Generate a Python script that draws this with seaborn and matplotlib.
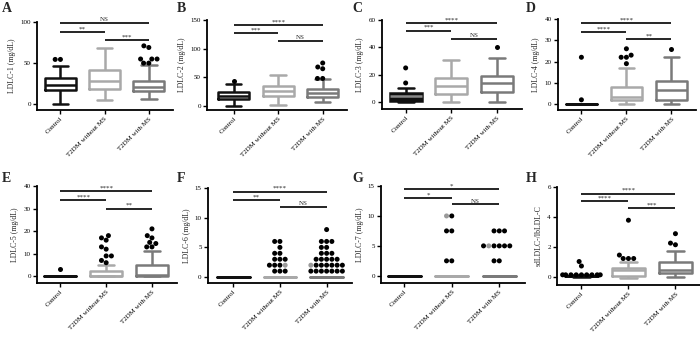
import numpy as np
import pandas as pd
import matplotlib
matplotlib.use("Agg")
import matplotlib.pyplot as plt
import seaborn as sns

# ---------------- data ----------------
groups = ["Control", "T2DM without MS", "T2DM with MS"]

# five-number summaries per group: [lower whisker, Q1, median, Q3, upper whisker]
ldlc1_box = [[0, 17, 23, 32, 47], [5, 19, 28.5, 42, 68], [6, 16, 21, 28.5, 48]]
ldlc1_out = [[54.5, 54.5], [], [71, 69, 55, 55, 55, 50, 50]]
ldlc2_box = [[0, 12, 17.5, 24.5, 37.5], [1, 17, 26, 34, 54], [7, 16, 22, 29, 47.5]]
ldlc2_out = [[43], [], [75, 68, 65, 48, 48]]
ldlc3_box = [[0, 1, 4.8, 6.6, 10.7], [0, 6, 12, 17.5, 31], [0, 7.7, 14.3, 19.2, 32.5]]
ldlc3_out = [[25, 14], [], [40]]
ldlc4_box = [[0, 0, 0, 0, 0], [0, 1.9, 3.5, 8, 17], [0, 2, 6.5, 11, 22]]
ldlc4_out = [[22, 2], [26, 23, 22, 22, 19], [26]]
ldlc5_box = [[0, 0, 0, 0, 0], [0, 0, 0, 2.5, 5], [0, 0, 0.7, 5.2, 11]]
ldlc5_out = [[3], [18, 17, 16, 13, 12, 9, 9, 7, 6], [21, 18, 17, 15, 14.5, 13, 13]]
ldlc6_box = [[0, 0, 0, 0, 0], [0, 0, 0, 0, 0], [0, 0, 0, 0, 0]]
ldlc6_out = [[], [6, 6, 5, 4, 4, 3, 3, 3, 2, 2, 2, 1, 1, 1],
             [8, 6, 6, 6, 5, 5, 4, 4, 4, 3, 3, 3, 3, 3, 2, 2, 2, 2, 2, 2,
              1, 1, 1, 1, 1, 1, 1]]
ldlc6_grey = [[], [2], [2]]
ldlc7_box = [[0, 0, 0, 0, 0], [0, 0, 0, 0, 0], [0, 0, 0, 0, 0]]
ldlc7_out = [[], [10, 7.5, 7.5, 2.5, 2.5], [7.5, 7.5, 7.5, 5, 5, 5, 5, 5, 2.5, 2.5]]
ldlc7_grey = [[], [10], [5]]
ratio_box = [[0, 0.03, 0.06, 0.08, 0.1], [-0.1, 0.05, 0.42, 0.6, 1.0], [0, 0.22, 0.48, 0.98, 1.74]]
ratio_out = [[1.02, 0.72, 0.13, 0.13, 0.13, 0.13, 0.13, 0.13, 0.13, 0.13, 0.13],
             [3.78, 1.45, 1.22, 1.22, 1.22], [2.88, 2.25, 2.14]]

# significance annotations: (group i, group j, bar level, label)
sig_a = [(0, 2, 99, "NS"), (0, 1, 88, "**"), (1, 2, 78, "***")]
sig_b = [(0, 2, 141, "****"), (0, 1, 127, "***"), (1, 2, 114, "NS")]
sig_c = [(0, 2, 57.6, "****"), (0, 1, 52.3, "***"), (1, 2, 46, "NS")]
sig_d = [(0, 2, 38, "****"), (0, 1, 33.8, "****"), (1, 2, 30.5, "**")]
sig_e = [(0, 2, 37.7, "****"), (0, 1, 33.6, "****"), (1, 2, 29.9, "**")]
sig_f = [(0, 2, 14.4, "****"), (0, 1, 12.9, "**"), (1, 2, 11.8, "NS")]
sig_g = [(0, 2, 14.5, "*"), (0, 1, 12.95, "*"), (1, 2, 11.95, "NS")]
sig_h = [(0, 2, 5.55, "****"), (0, 1, 5.06, "****"), (1, 2, 4.58, "***")]

panels = [
    ("A", "LDLC-1 (mg/dL)", ldlc1_box, ldlc1_out, None, [0, 50, 100], -7, sig_a),
    ("B", "LDLC-2 (mg/dL)", ldlc2_box, ldlc2_out, None, [0, 50, 100, 150], -7, sig_b),
    ("C", "LDLC-3 (mg/dL)", ldlc3_box, ldlc3_out, None, [0, 20, 40, 60], -5, sig_c),
    ("D", "LDLC-4 (mg/dL)", ldlc4_box, ldlc4_out, None, [0, 10, 20, 30, 40], -2.8, sig_d),
    ("E", "LDLC-5 (mg/dL)", ldlc5_box, ldlc5_out, None, [0, 10, 20, 30, 40], -3, sig_e),
    ("F", "LDLC-6 (mg/dL)", ldlc6_box, ldlc6_out, ldlc6_grey, [0, 5, 10, 15], -1, sig_f),
    ("G", "LDLC-7 (mg/dL)", ldlc7_box, ldlc7_out, ldlc7_grey, [0, 5, 10, 15], -1.2, sig_g),
    ("H", "sdLDLC-/lbLDL-C", ratio_box, ratio_out, None, [0, 2, 4, 6], -0.55, sig_h),
]

# ---------------- style / layout ----------------
sns.set_style("ticks")
plt.rcParams["font.family"] = ["Liberation Serif", "DejaVu Serif"]

W, H = 700, 337
fig = plt.figure(figsize=(W / 100, H / 100), dpi=100)

# pixel layout: (left spine x, top y, bottom y, category spacing, x-left-limit)
layout = [
    (37, 22, 110, 44.2, -0.53), (207, 20, 110, 44.5, -0.60),
    (382, 20, 109, 45.5, -0.52), (558, 19, 110, 45.0, -0.52),
    (37, 186, 283, 45.8, -0.51), (208, 188, 283, 46.7, -0.54),
    (381, 186, 283, 47.5, -0.49), (557, 187, 285, 47.0, -0.52),
]
letter_pos = [(2, 2), (177, 2), (352, 2), (526, 2), (2, 172), (177, 172), (352, 172), (526, 172)]

colors = ["#111111", "#a9a9a9", "#7a7a7a"]
XR = 2.55

for (letter, ylabel, box, out, grey, yticks, ybot, sigs), (lx, ty, by, sp, xl), lp in zip(panels, layout, letter_pos):
    wpx = (XR - xl) * sp
    ax = fig.add_axes([lx / W, 1 - by / H, wpx / W, (by - ty) / H])
    for gi, g in enumerate(groups):
        df = pd.DataFrame({"group": [g] * len(box[gi]), "value": box[gi]})
        if letter == "C" and gi == 0:
            sns.boxplot(data=df, x="group", y="value", order=groups, ax=ax,
                        whis=(0, 100), showfliers=False, width=0.7,
                        color="#111111", linecolor="#111111", fill=True,
                        linewidth=1.8, medianprops={"color": "#8a8a8a"})
        else:
            sns.boxplot(data=df, x="group", y="value", order=groups, ax=ax,
                        whis=(0, 100), showfliers=False, width=0.7,
                        color=colors[gi], fill=False, linewidth=1.8)
    rows = []
    for gi, g in enumerate(groups):
        greys = list(grey[gi]) if grey is not None else []
        for v in out[gi]:
            rows.append((g, v, "black"))
        for v in greys:
            rows.append((g, v, "grey"))
    dfo = pd.DataFrame(rows, columns=["group", "value", "shade"])
    sns.swarmplot(data=dfo, x="group", y="value", order=groups, hue="shade",
                  hue_order=["black", "grey"], palette={"black": "black", "grey": "#9a9a9a"},
                  size=3.6, linewidth=0, legend=False, ax=ax, zorder=5)

    ax.set_xlim(xl, XR)
    ax.set_ylim(ybot, yticks[-1])
    ax.set_yticks(yticks)
    ax.set_yticklabels([str(t) for t in yticks], fontsize=5)
    ax.set_xticks(range(3))
    ax.set_xticklabels(groups, rotation=45, ha="right", va="top",
                       rotation_mode="anchor", fontsize=5)
    ax.set_xlabel("")
    ax.set_ylabel(ylabel, fontsize=5.6, labelpad=3)
    for s in ["top", "right"]:
        ax.spines[s].set_visible(False)
    for s in ["left", "bottom"]:
        ax.spines[s].set_linewidth(1.3)
        ax.spines[s].set_color("black")
    ax.tick_params(axis="both", direction="out", length=3, width=1, pad=1.5, colors="black")
    ax.set_facecolor("none")

    for (i, j, lev, txt) in sigs:
        ax.plot([i, j], [lev, lev], color="black", lw=1.2, clip_on=False, solid_capstyle="butt")
        ax.annotate(txt, xy=((i + j) / 2, lev), xytext=(0, 0.5), textcoords="offset points",
                    ha="center", va="bottom", fontsize=5, annotation_clip=False)

    fig.text(lp[0] / W, 1 - lp[1] / H, letter, fontsize=10, fontweight="bold",
             ha="left", va="top")

fig.savefig("out.png", dpi=100)
